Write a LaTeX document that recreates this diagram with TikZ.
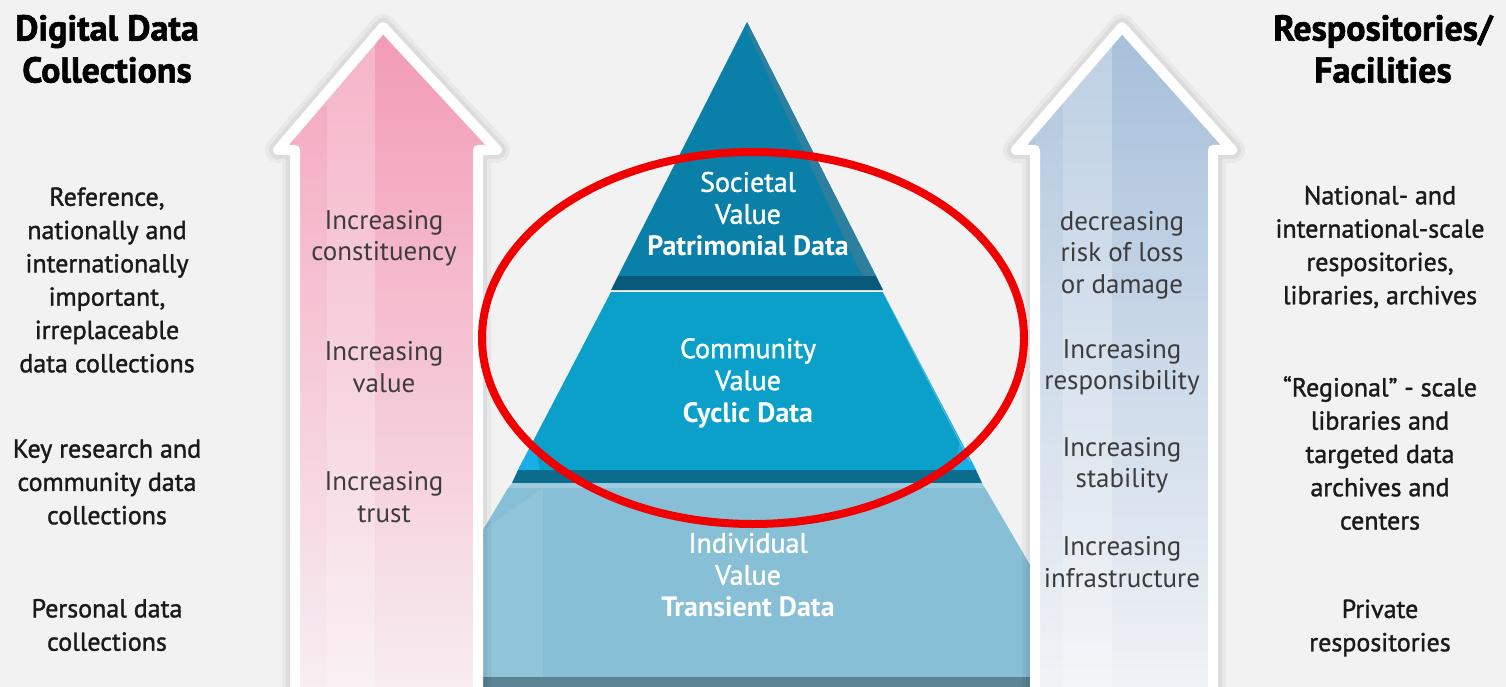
\documentclass[tikz,border=0pt]{standalone}
\usepackage{fontspec}
\setmainfont{PT Sans}
\newfontfamily\semisans[Ligatures=TeX,UprightFeatures={RawFeature={embolden=1.3}}]{PT Sans}
\newfontfamily\heavysans[Ligatures=TeX,BoldFeatures={RawFeature={embolden=1.6}}]{PT Sans}
\usepackage{tikz}
\usepackage{xcolor}
\usetikzlibrary{positioning}

\definecolor{bggray}{HTML}{F2F2F2}
\definecolor{pinktop}{HTML}{F39AB6}
\definecolor{pinkbot}{HTML}{F7EEF2}
\definecolor{bluetop}{HTML}{A6BFDA}
\definecolor{bluebot}{HTML}{F1F3F7}
\definecolor{tierone}{HTML}{0A80A8}
\definecolor{tieroneside}{HTML}{2E7F9E}
\definecolor{bandone}{HTML}{085A7A}
\definecolor{tiertwo}{HTML}{0BA0CA}
\definecolor{bandtwo}{HTML}{0A6D8D}
\definecolor{cyanbit}{HTML}{18AEE6}
\definecolor{tierthree}{HTML}{86BFD6}
\definecolor{bandthree}{HTML}{5C8494}
\definecolor{ringred}{HTML}{F00000}
\definecolor{sidetext}{HTML}{1A1A1A}
\definecolor{arrowtext}{HTML}{3C3C3C}

\begin{document}
\begin{tikzpicture}[x=1pt,y=-1pt,
  sidetitle/.style={align=center,text=black,font=\fontsize{36}{42}\selectfont\heavysans\bfseries},
  sidetxt/.style={align=center,text=sidetext,font=\fontsize{26}{33.3}\selectfont\semisans},
  arrowtxt/.style={align=center,text=arrowtext,font=\fontsize{27}{31.5}\selectfont},
  tiertxt/.style={align=center,text=white,font=\fontsize{28}{32}\selectfont\semisans}]
\useasboundingbox (0,0) rectangle (1506,687);
\fill[bggray] (0,0) rectangle (1506,687);

% pyramid
\fill[tierone] (747,22) -- (876,276) -- (618,276) -- cycle;
\fill[tieroneside] (747,22) -- (876,276) -- (862,276) -- (749,34) -- cycle;
\fill[bandone] (618,276) -- (876,276) -- (883,290) -- (611,290) -- cycle;
\fill[tiertwo] (611,292) -- (883,292) -- (976,470) -- (518,470) -- cycle;
\fill[cyanbit] (518,470) -- (534,440) -- (540,470) -- cycle;
\fill[cyanbit] (976,470) -- (960,440) -- (954,470) -- cycle;
\draw[white,opacity=0.3,line width=1pt] (883,292) -- (970,462);
\fill[bandtwo] (518,470) -- (976,470) -- (982,483) -- (512,483) -- cycle;
\fill[tierthree!80!white] (512,483) -- (982,483) -- (985,488) -- (508,488) -- cycle;
\fill[tierthree] (508,488) -- (985,488) -- (1033,570) -- (1033,677) -- (483,677) -- (483,530) -- cycle;
\fill[white,opacity=0.08] (483,530) -- (543,488) -- (543,677) -- (483,677) -- cycle;
\fill[bandthree] (480,677) rectangle (1033,700);

% left arrow
\draw[black,opacity=0.04,line width=26pt,line join=round] (383,27) -- (497,150) -- (478,150) -- (478,700) -- (295,700) -- (295,150) -- (278,150) -- cycle;
\draw[black,opacity=0.05,line width=18pt,line join=round] (383,27) -- (497,150) -- (478,150) -- (478,700) -- (295,700) -- (295,150) -- (278,150) -- cycle;
\shade[top color=pinktop,bottom color=pinkbot] (383,27) -- (497,150) -- (478,150) -- (478,700) -- (295,700) -- (295,150) -- (278,150) -- cycle;
\begin{scope}
\clip (383,27) -- (497,150) -- (478,150) -- (478,700) -- (295,700) -- (295,150) -- (278,150) -- cycle;
\fill[white,opacity=0.25] (327,0) rectangle (375,700);
\fill[white,opacity=0.1] (295,0) rectangle (327,700);
\end{scope}
\draw[white,line width=10pt,line join=round] (383,27) -- (497,150) -- (478,150) -- (478,700) -- (295,700) -- (295,150) -- (278,150) -- cycle;

% right arrow
\draw[black,opacity=0.04,line width=26pt,line join=round] (1122,27) -- (1232,150) -- (1213,150) -- (1213,700) -- (1035,700) -- (1035,150) -- (1016,150) -- cycle;
\draw[black,opacity=0.05,line width=18pt,line join=round] (1122,27) -- (1232,150) -- (1213,150) -- (1213,700) -- (1035,700) -- (1035,150) -- (1016,150) -- cycle;
\shade[top color=bluetop,bottom color=bluebot] (1122,27) -- (1232,150) -- (1213,150) -- (1213,700) -- (1035,700) -- (1035,150) -- (1016,150) -- cycle;
\begin{scope}
\clip (1122,27) -- (1232,150) -- (1213,150) -- (1213,700) -- (1035,700) -- (1035,150) -- (1016,150) -- cycle;
\fill[white,opacity=0.25] (1063,0) rectangle (1112,700);
\fill[white,opacity=0.1] (1035,0) rectangle (1063,700);
\end{scope}
\draw[white,line width=10pt,line join=round] (1122,27) -- (1232,150) -- (1213,150) -- (1213,700) -- (1035,700) -- (1035,150) -- (1016,150) -- cycle;

% red ring
\draw[ringred,line width=8pt] (753,338) ellipse [x radius=271pt,y radius=186pt];

% texts in the pyramid
\node[tiertxt] (societal) at (748,214) {Societal\\Value\\\textbf{Patrimonial Data}};
\node[tiertxt] (community) at (748,383) {Community\\Value\\\textbf{Cyclic Data}};
\node[tiertxt] (individual) at (748,575) {Individual\\Value\\\textbf{Transient Data}};

% texts on the arrows
\node[arrowtxt] (constituency) at (384,238) {Increasing\\constituency};
\node[arrowtxt] (value) at (384,367) {Increasing\\value};
\node[arrowtxt] (trust) at (384,497) {Increasing\\trust};
\node[arrowtxt] (risk) at (1122,255) {decreasing\\risk of loss\\or damage};
\node[arrowtxt] (responsibility) at (1122,367) {Increasing\\responsibility};
\node[arrowtxt] (stability) at (1122,465) {Increasing\\stability};
\node[arrowtxt] (infrastructure) at (1122,562) {Increasing\\infrastructure};

% left column
\node[sidetitle] (collections) at (107,49) {Digital Data\\Collections};
\node[sidetxt] (reference) at (107,280) {Reference,\\nationally and\\internationally\\important,\\irreplaceable\\data collections};
\node[sidetxt] (keyresearch) at (107,482) {Key research and\\community data\\collections};
\node[sidetxt] (personal) at (107,625) {Personal data\\collections};

% right column
\node[sidetitle] (facilities) at (1383,49) {Respositories/\\Facilities};
\node[sidetxt] (national) at (1380,247) {National- and\\international-scale\\respositories,\\libraries, archives};
\node[sidetxt] (regional) at (1380,453) {“Regional” - scale\\libraries and\\targeted data\\archives and\\centers};
\node[sidetxt] (private) at (1380,628) {Private\\respositories};
\end{tikzpicture}
\end{document}
